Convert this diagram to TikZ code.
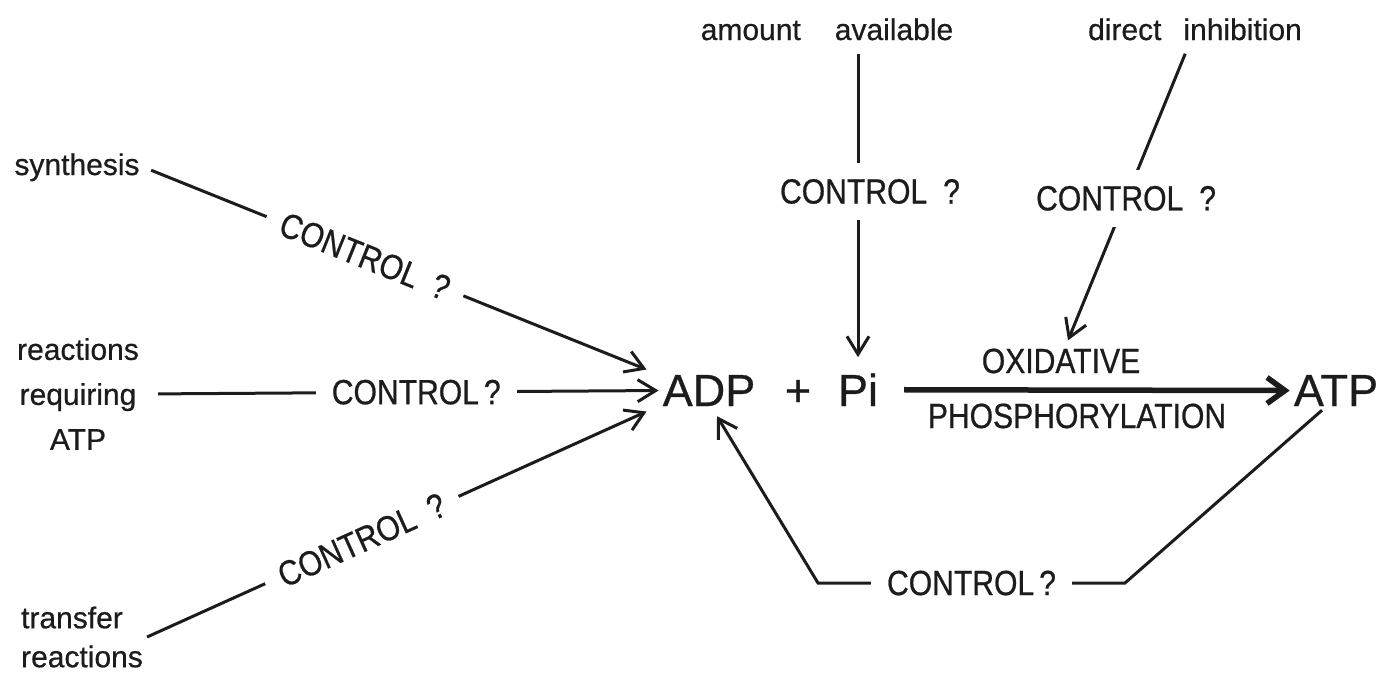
\documentclass[tikz,border=0pt]{standalone}
\usepackage{fontspec}
\setmainfont[FakeBold=0.6]{Liberation Sans}
\newfontfamily\capsfont[FakeStretch=0.86,FakeBold=0.6]{Liberation Sans}
\usetikzlibrary{arrows.meta,positioning}
\definecolor{Ink}{HTML}{1C1C1C}
\tikzset{
  wordnode/.style={font=\fontsize{30}{45}\selectfont,text=Ink,inner sep=4pt},
  chemnode/.style={font=\fontsize{45}{50}\selectfont,text=Ink,inner sep=4pt},
  capsnode/.style={font=\capsfont\fontsize{35}{40}\selectfont,text=Ink,inner sep=4pt},
  ctrllabel/.style={capsnode,fill=white,inner sep=16pt},
  arrow/.style={-{Straight Barb[length=18pt,width=22pt]},line width=3pt,draw=Ink},
  mainarrow/.style={-{Straight Barb[length=18pt,width=26pt]},line width=5.5pt,draw=Ink}
}
\newcommand{\ctrlwide}{CONTROL\hspace{16pt}?}
\newcommand{\ctrltight}{CONTROL\hspace{5pt}?}

\begin{document}
\begin{tikzpicture}[x=1pt,y=-1pt]
\path[use as bounding box,fill=white] (0,0) rectangle (1391,675);
% sources on the left
\node[wordnode,anchor=base] (syn) at (77,175) {synthesis};
\node[wordnode,align=center] (rxn) at (78,394) {reactions\\requiring\\ATP};
\node[wordnode,align=left,font=\fontsize{30}{39}\selectfont] (trn) at (82,637) {transfer\\reactions};
% sources on top
\node[wordnode,anchor=base] (amt) at (827,40) {amount\hspace{34pt}available};
\node[wordnode,anchor=base] (dinh) at (1195,40) {direct\hspace{22pt}inhibition};
% the reaction
\node[chemnode,anchor=base] (adp) at (709,406) {ADP};
\node[chemnode,anchor=base] (plus) at (798,406) {+};
\node[chemnode,anchor=base] (pi) at (858,406) {Pi};
\node[chemnode,anchor=base] (atp) at (1336,406) {ATP};
\node[capsnode,anchor=base] (oxi) at (1061,373) {OXIDATIVE};
\node[capsnode,anchor=base] (phos) at (1077,428) {PHOSPHORYLATION};
\coordinate (fbr) at (1125,583);
\coordinate (fbl) at (818,583);

\draw[arrow,shorten <=8pt] (syn.east) -- node[ctrllabel,sloped,pos=0.44]{\ctrlwide} ([xshift=-12pt,yshift=21pt]adp.west);
\draw[arrow,shorten <=15pt] (rxn.east) -- node[ctrllabel,pos=0.53]{\ctrltight} (adp.west);
\draw[arrow] (trn.east) -- node[ctrllabel,sloped,pos=0.43]{\ctrlwide} ([xshift=-12pt,yshift=-21pt]adp.west);
\draw[arrow,shorten <=10pt] ([xshift=31pt]amt.south) -- node[ctrllabel,pos=0.47,xshift=12pt]{\ctrlwide} ([yshift=12pt]pi.north);
\draw[arrow,shorten <=10pt] ([xshift=-6pt]dinh.south) -- node[ctrllabel,pos=0.52]{\ctrlwide} ([xshift=7pt,yshift=4pt]oxi.north);
\draw[mainarrow,shorten <=22pt] (pi.east) -- (atp.west);
\draw[arrow] ([xshift=-14pt]atp.south) -- (fbr) -- node[ctrllabel]{\ctrltight} (fbl) -- ([xshift=8pt,yshift=-6pt]adp.south);
\end{tikzpicture}
\end{document}
